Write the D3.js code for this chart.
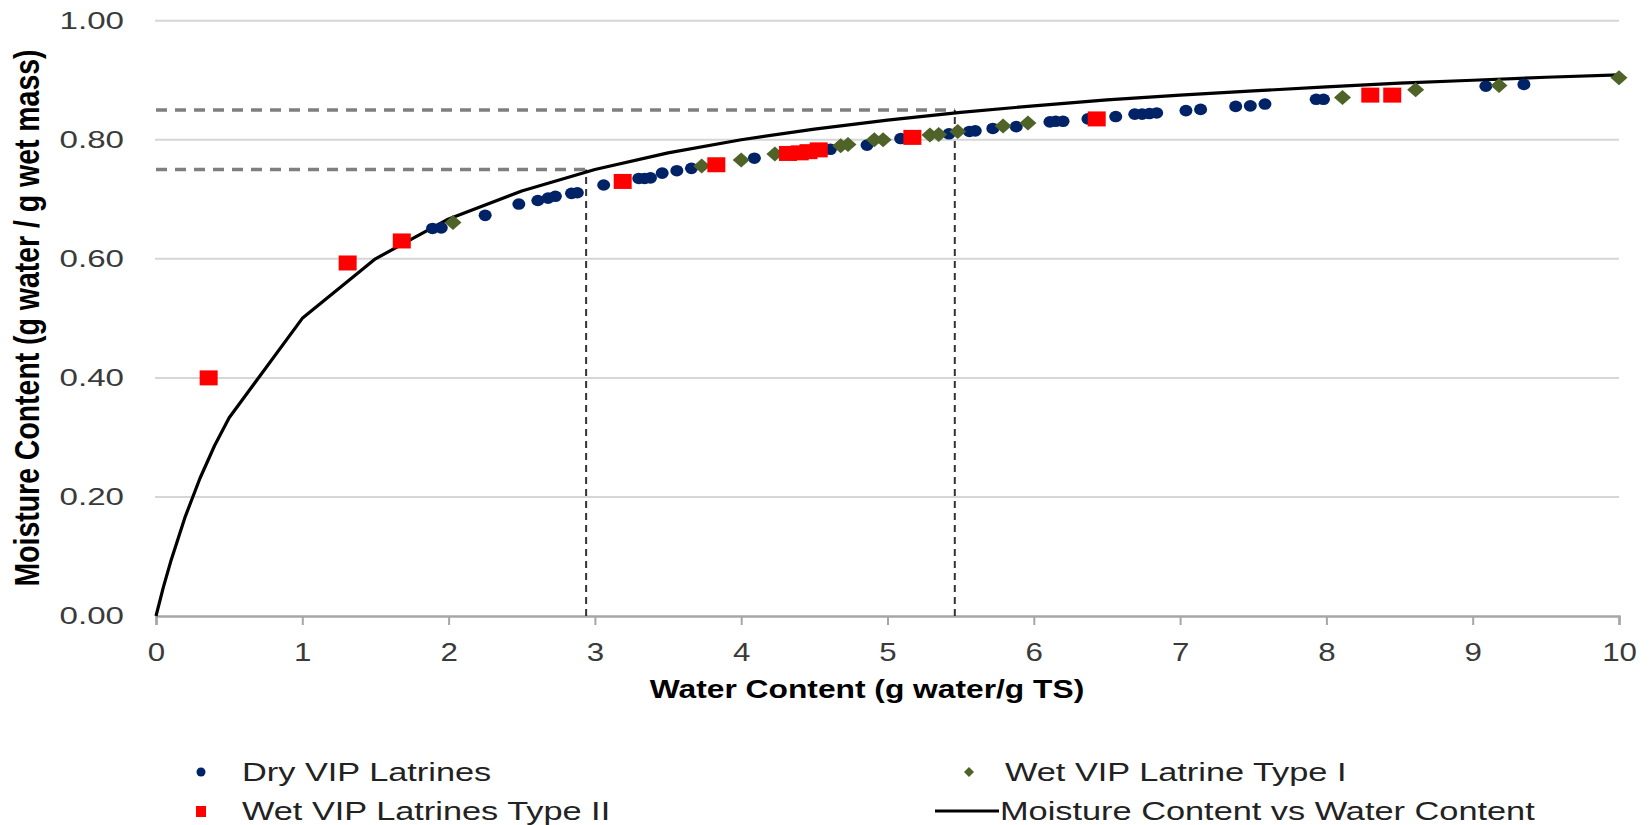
<!DOCTYPE html>
<html>
<head>
<meta charset="utf-8">
<script src="https://cdn.jsdelivr.net/npm/d3@7/dist/d3.min.js"></script>
<style>
  body { margin: 0; background: #fff; }
  svg { display: block; font-family: "Liberation Sans", Arial, sans-serif; }
</style>
</head>
<body>
<svg id="chart" width="1649" height="825"></svg>
<script>
// data
var dryW = [1.89, 1.95, 2.25, 2.48, 2.61, 2.68, 2.73, 2.84, 2.88, 3.06, 3.30, 3.34, 3.38, 3.46, 3.56, 3.66,
            4.09, 4.61, 4.86, 5.09, 5.42, 5.56, 5.60, 5.72, 5.88, 6.11, 6.15, 6.20, 6.37, 6.56, 6.69, 6.74,
            6.79, 6.84, 7.04, 7.14, 7.38, 7.48, 7.58, 7.93, 7.98, 9.09, 9.35];
var dryM = [0.651, 0.652, 0.673, 0.692, 0.698, 0.702, 0.705, 0.710, 0.711, 0.724, 0.735, 0.735, 0.736, 0.744, 0.748, 0.752,
            0.769, 0.784, 0.791, 0.802, 0.810, 0.814, 0.815, 0.819, 0.822, 0.830, 0.831, 0.831, 0.835, 0.839, 0.843, 0.843,
            0.844, 0.845, 0.849, 0.851, 0.856, 0.857, 0.860, 0.868, 0.868, 0.890, 0.893];

var wet1W = [2.03, 3.73, 4.00, 4.23, 4.68, 4.73, 4.91, 4.97, 5.29, 5.35, 5.48, 5.79, 5.96, 8.11, 8.61, 9.18, 10.0];
var wet1M = [0.661, 0.756, 0.766, 0.776, 0.790, 0.792, 0.800, 0.800, 0.808, 0.809, 0.814, 0.823, 0.828, 0.871, 0.884, 0.891, 0.904];

var wet2W = [0.36, 1.31, 1.68, 3.19, 3.83, 4.32, 4.40, 4.46, 4.53, 5.17, 6.43, 8.30, 8.45];
var wet2M = [0.400, 0.593, 0.630, 0.730, 0.758, 0.777, 0.778, 0.780, 0.783, 0.804, 0.835, 0.875, 0.875];

var curveW = [0, 0.05, 0.1, 0.2, 0.3, 0.4, 0.5, 1, 1.5, 2, 2.5, 3, 3.5, 4, 4.5, 5, 5.5, 6, 6.5, 7, 7.5, 8, 8.5, 9, 9.5, 10];
var curveM = [0, 0.048, 0.091, 0.167, 0.231, 0.286, 0.333, 0.500, 0.600, 0.667, 0.714, 0.750, 0.778, 0.800, 0.818,
              0.833, 0.846, 0.857, 0.867, 0.875, 0.882, 0.889, 0.895, 0.900, 0.905, 0.909];

// dashed reference lines: water content -> moisture content
var refW = [2.94, 5.46];
var refM = [0.75, 0.85];

var xTicks = [0, 1, 2, 3, 4, 5, 6, 7, 8, 9, 10];
var yTicks = [0, 0.2, 0.4, 0.6, 0.8, 1.0];

var legendLabels = ["Dry VIP Latrines", "Wet VIP Latrine Type I", "Wet VIP Latrines Type II", "Moisture Content vs Water Content"];

var svg = d3.select('#chart');

var xScale = d3.scaleLinear().domain([0, 10]).range([156, 1619]);
var yScale = d3.scaleLinear().domain([0, 1]).range([616, 20.7]);

// the source image is stretched sideways, so widen text to match
function stretch(sel, factor) {
    sel.each(function() {
        var w = this.getComputedTextLength();
        d3.select(this).attr('textLength', w * factor).attr('lengthAdjust', 'spacingAndGlyphs');
    });
}

// gridlines
svg.append('g').selectAll('line')
    .data(yTicks.filter(function(d) { return d > 0; }))
    .enter().append('line')
    .attr('x1', xScale(0) - 1).attr('x2', xScale(10))
    .attr('y1', function(d) { return yScale(d); })
    .attr('y2', function(d) { return yScale(d); })
    .attr('stroke', '#d6d6d6')
    .attr('stroke-width', 2);

// x axis
var xAxisG = svg.append('g')
    .attr('transform', 'translate(0,' + yScale(0) + ')')
    .call(d3.axisBottom(xScale).tickValues(xTicks).tickSize(9).tickFormat(d3.format('d')));
xAxisG.select('.domain').attr('stroke', '#a6a6a6').attr('stroke-width', 2.5);
xAxisG.selectAll('.tick line').attr('stroke', '#a6a6a6').attr('stroke-width', 2);
xAxisG.selectAll('.tick text')
    .attr('y', 27)
    .attr('dy', '0.71em')
    .attr('fill', '#3a3a3a')
    .style('font-size', '25px')
    .style('font-family', '"Liberation Sans", Arial, sans-serif')
    .call(stretch, 1.25);

// y axis labels only
var yAxisG = svg.append('g')
    .attr('transform', 'translate(' + xScale(0) + ',0)')
    .call(d3.axisLeft(yScale).tickValues(yTicks).tickSize(0).tickPadding(32).tickFormat(d3.format('.2f')));
yAxisG.select('.domain').remove();
yAxisG.selectAll('.tick text')
    .attr('fill', '#3a3a3a')
    .style('font-size', '24px')
    .style('font-family', '"Liberation Sans", Arial, sans-serif')
    .call(stretch, 1.38);

// dashed reference lines
refW.forEach(function(w, i) {
    svg.append('line')
        .attr('x1', xScale(0)).attr('x2', xScale(w))
        .attr('y1', yScale(refM[i])).attr('y2', yScale(refM[i]))
        .attr('stroke', '#7f7f7f').attr('stroke-width', 3.5)
        .attr('stroke-dasharray', '11,8');
    svg.append('line')
        .attr('x1', xScale(w)).attr('x2', xScale(w))
        .attr('y1', yScale(0)).attr('y2', yScale(refM[i]))
        .attr('stroke', '#333').attr('stroke-width', 2)
        .attr('stroke-dasharray', '7,5');
});

// fitted curve
var curveData = curveW.map(function(w, i) { return {w: w, m: curveM[i]}; });
svg.append('path')
    .datum(curveData)
    .attr('fill', 'none')
    .attr('stroke', '#000')
    .attr('stroke-width', 3.2)
    .attr('stroke-linejoin', 'round')
    .attr('d', d3.line()
        .x(function(d) { return xScale(d.w); })
        .y(function(d) { return yScale(d.m); }));

// dry latrines
svg.append('g').selectAll('ellipse')
    .data(dryW.map(function(w, i) { return {w: w, m: dryM[i]}; }))
    .enter().append('ellipse')
    .attr('cx', function(d) { return xScale(d.w); })
    .attr('cy', function(d) { return yScale(d.m); })
    .attr('rx', 6.5).attr('ry', 5.8)
    .attr('fill', '#002266');

// wet type I (diamonds)
svg.append('g').selectAll('path')
    .data(wet1W.map(function(w, i) { return {w: w, m: wet1M[i]}; }))
    .enter().append('path')
    .attr('transform', function(d) { return 'translate(' + [xScale(d.w), yScale(d.m)] + ')'; })
    .attr('d', 'M0,-7.5L8.5,0L0,7.5L-8.5,0Z')
    .attr('fill', '#4f6228');

// wet type II (squares)
svg.append('g').selectAll('rect')
    .data(wet2W.map(function(w, i) { return {w: w, m: wet2M[i]}; }))
    .enter().append('rect')
    .attr('x', function(d) { return xScale(d.w) - 9; })
    .attr('y', function(d) { return yScale(d.m) - 7.5; })
    .attr('width', 18).attr('height', 15)
    .attr('fill', '#ff0000');

// axis titles
svg.append('text')
    .attr('x', 867).attr('y', 698)
    .attr('text-anchor', 'middle')
    .style('font-size', '25px').style('font-weight', 'bold')
    .text('Water Content (g water/g TS)')
    .call(stretch, 1.27);

svg.append('text')
    .attr('transform', 'translate(39,318) scale(1.3,1) rotate(-90)')
    .attr('text-anchor', 'middle')
    .attr('textLength', 537).attr('lengthAdjust', 'spacingAndGlyphs')
    .style('font-size', '27px').style('font-weight', 'bold')
    .text('Moisture Content (g water / g wet mass)');

// legend
var legend = svg.append('g');
legend.append('ellipse').attr('cx', 201).attr('cy', 772).attr('rx', 4.5).attr('ry', 4.5).attr('fill', '#002266');
legend.append('path').attr('transform', 'translate(969,772)').attr('d', 'M0,-5L5,0L0,5L-5,0Z').attr('fill', '#4f6228');
legend.append('rect').attr('x', 196).attr('y', 806).attr('width', 10).attr('height', 11).attr('fill', '#ff0000');
legend.append('line').attr('x1', 935).attr('x2', 999).attr('y1', 811).attr('y2', 811)
    .attr('stroke', '#000').attr('stroke-width', 3.2);

var legendPos = [[242, 781], [1005, 781], [242, 820], [1000, 820]];
legend.selectAll('text')
    .data(legendLabels)
    .enter().append('text')
    .attr('x', function(d, i) { return legendPos[i][0]; })
    .attr('y', function(d, i) { return legendPos[i][1]; })
    .attr('fill', '#222')
    .style('font-size', '26px')
    .text(function(d) { return d; })
    .call(stretch, 1.32);
</script>
</body>
</html>
